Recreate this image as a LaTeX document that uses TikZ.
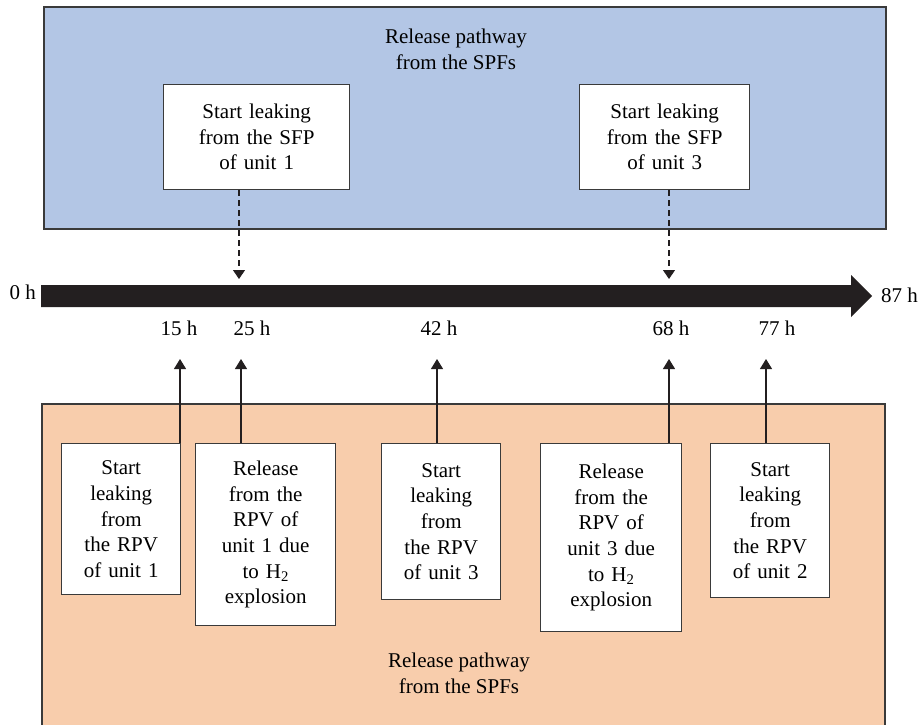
\documentclass[tikz,border=0pt]{standalone}
\usepackage{fontspec}
\setmainfont{Liberation Serif}
\usetikzlibrary{arrows.meta}
\definecolor{bluebg}{HTML}{B3C6E5}
\definecolor{orangebg}{HTML}{F8CDAC}
\definecolor{edge}{HTML}{3A3A3A}
\definecolor{barfill}{HTML}{231F20}

\begin{document}
\begin{tikzpicture}[x=1pt,y=-1pt,
  font=\fontsize{21}{25.6}\selectfont,
  panel/.style={draw=edge, line width=1.6pt, anchor=north west, inner sep=0pt},
  eventbox/.style={draw=edge, fill=white, line width=1.4pt, anchor=north west,
    align=center, inner sep=0pt},
  title/.style={align=center, inner sep=0pt, anchor=base},
  tlabel/.style={anchor=base, inner sep=0pt},
  drop/.style={draw=barfill, line width=1.1pt, dash pattern=on 6pt off 4pt,
    -{Triangle[width=12pt,length=9pt]}},
  rise/.style={draw=barfill, line width=1.1pt,
    -{Triangle[width=12pt,length=10pt]}}]

\useasboundingbox (0,0) rectangle (920,724);
\clip (0,0) rectangle (920,724);

% upper panel: spent fuel pools
\node[panel, fill=bluebg, minimum width=842pt, minimum height=222pt] (upper) at (43,6) {};
\node[title] (uppertitle) at (456,69) {Release pathway\\from the SPFs};

\node[eventbox, minimum width=186pt, minimum height=105pt, text width=186pt] (sfp1) at (163,84)
  {Start leaking\\from the SFP\\of unit 1};
\node[eventbox, minimum width=170pt, minimum height=105pt, text width=170pt] (sfp3) at (579,84)
  {Start leaking\\from the SFP\\of unit 3};

% lower panel: reactor pressure vessels
\node[panel, fill=orangebg, minimum width=843pt, minimum height=340pt] (lower) at (41,403) {};
\node[title] (lowertitle) at (459,693) {Release pathway\\from the SPFs};

\node[eventbox, minimum width=119pt, minimum height=151pt, text width=119pt] (ev1) at (61,443)
  {Start\\leaking\\from\\the RPV\\of unit 1};
\node[eventbox, minimum width=140pt, minimum height=182pt, text width=140pt] (ev2) at (195,443)
  {Release\\from the\\RPV of\\unit 1 due\\to H\textsubscript{2}\\explosion};
\node[eventbox, minimum width=119pt, minimum height=156pt, text width=119pt] (ev3) at (381,443)
  {Start\\leaking\\from\\the RPV\\of unit 3};
\node[eventbox, minimum width=141pt, minimum height=188pt, text width=141pt] (ev4) at (540,443)
  {Release\\from the\\RPV of\\unit 3 due\\to H\textsubscript{2}\\explosion};
\node[eventbox, minimum width=119pt, minimum height=154pt, text width=119pt] (ev5) at (710,443)
  {Start\\leaking\\from\\the RPV\\of unit 2};

% time axis
\fill[barfill] (41,285) -- (851,285) -- (851,275) -- (872,296) -- (851,317)
  -- (851,307) -- (41,307) -- cycle;
\node[inner sep=0pt, anchor=base east] (t0) at (36,299) {0 h};
\node[inner sep=0pt, anchor=base west] (t87) at (881,302) {87 h};

\node[tlabel] (l15) at (179,335) {15 h};
\node[tlabel] (l25) at (252,335) {25 h};
\node[tlabel] (l42) at (439,335) {42 h};
\node[tlabel] (l68) at (671,335) {68 h};
\node[tlabel] (l77) at (777,335) {77 h};

% pool releases drop onto the axis
\coordinate (d1) at (239,279);
\coordinate (d3) at (669,279);
\draw[drop] (sfp1.south -| d1) -- (d1);
\draw[drop] (sfp3.south -| d3) -- (d3);

% vessel releases point up to their times
\coordinate (u15) at (180,359);
\coordinate (u25) at (241,359);
\coordinate (u42) at (437,359);
\coordinate (u68) at (669,359);
\coordinate (u77) at (766,359);
\draw[rise] (ev1.north -| u15) -- (u15);
\draw[rise] (ev2.north -| u25) -- (u25);
\draw[rise] (ev3.north -| u42) -- (u42);
\draw[rise] (ev4.north -| u68) -- (u68);
\draw[rise] (ev5.north -| u77) -- (u77);
\end{tikzpicture}
\end{document}
